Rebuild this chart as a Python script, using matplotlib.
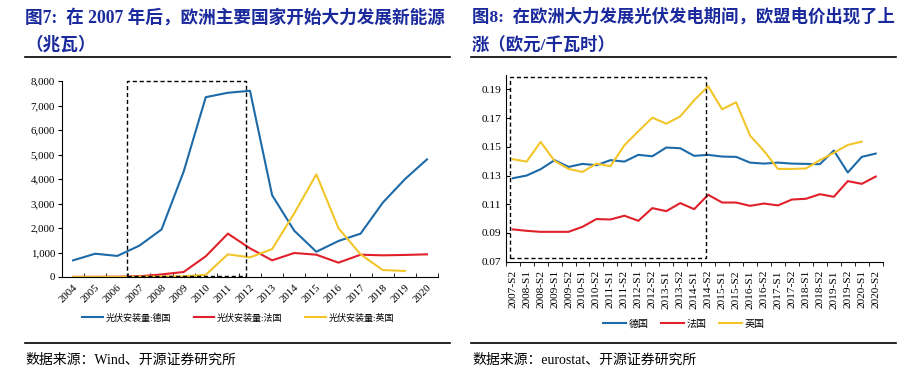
import matplotlib
matplotlib.use('Agg')
import matplotlib.pyplot as plt
from matplotlib.patches import Rectangle
from matplotlib.lines import Line2D
from matplotlib.ticker import FuncFormatter, FixedLocator

plt.rcParams['font.family'] = ['Liberation Serif', 'Noto Sans CJK SC']

# installed PV capacity (MW)
years = ['2004', '2005', '2006', '2007', '2008', '2009', '2010', '2011', '2012',
         '2013', '2014', '2015', '2016', '2017', '2018', '2019', '2020']
pv_germany = [680, 950, 860, 1280, 1940, 4300, 7340, 7520, 7600,
              3340, 1890, 1030, 1470, 1770, 3030, 3990, 4800]
pv_france = [5, 7, 11, 30, 105, 205, 845, 1770, 1170,
             680, 980, 910, 585, 910, 885, 900, 925]
pv_uk = [2, 3, 4, 10, 20, 30, 90, 925, 800,
         1140, 2600, 4190, 1990, 925, 285, 245, None]

# electricity price (EUR/kWh)
halves = ['2007-S2', '2008-S1', '2008-S2', '2009-S1', '2009-S2', '2010-S1', '2010-S2',
          '2011-S1', '2011-S2', '2012-S1', '2012-S2', '2013-S1', '2013-S2', '2014-S1',
          '2014-S2', '2015-S1', '2015-S2', '2016-S1', '2016-S2', '2017-S1', '2017-S2',
          '2018-S1', '2018-S2', '2019-S1', '2019-S2', '2020-S1', '2020-S2']
price_germany = [0.1281, 0.1300, 0.1344, 0.1407, 0.1360, 0.1381, 0.1372, 0.1407, 0.1397,
                 0.1444, 0.1434, 0.1495, 0.1490, 0.1437, 0.1444, 0.1432, 0.1430, 0.1390,
                 0.1383, 0.1390, 0.1383, 0.1381, 0.1379, 0.1474, 0.1321, 0.1430, 0.1453]
price_france = [0.0925, 0.0915, 0.0908, 0.0908, 0.0908, 0.0943, 0.0997, 0.0994, 0.1020,
                0.0985, 0.1073, 0.1052, 0.1108, 0.1066, 0.1166, 0.1112, 0.1112, 0.1089,
                0.1105, 0.1092, 0.1133, 0.1138, 0.1170, 0.1152, 0.1261, 0.1242, 0.1293]
price_uk = [0.1414, 0.1397, 0.1534, 0.1402, 0.1346, 0.1325, 0.1383, 0.1365, 0.1511,
            0.1608, 0.1703, 0.1661, 0.1712, 0.1824, 0.1921, 0.1761, 0.1810, 0.1578,
            0.1471, 0.1346, 0.1346, 0.1349, 0.1407, 0.1458, 0.1513, 0.1536, None]

blue = '#1d6aa8'
red = '#e0202a'
yellow = '#f2c62a'
navy = '#1a2a9c'
cjk = ['Liberation Serif', 'Noto Sans CJK SC']

fig = plt.figure(figsize=(9.01, 3.73), dpi=100)

# ---------- left chart ----------
ax1 = fig.add_axes([62 / 901, 1 - 277 / 373, 376 / 901, 196 / 373])
x1 = list(range(len(years)))
ax1.plot(x1, pv_germany, color=blue, lw=1.5, label='光伏安装量:德国')
ax1.plot(x1, pv_france, color=red, lw=1.5, label='光伏安装量:法国')
ax1.plot(x1, [v if v is not None else float('nan') for v in pv_uk], color=yellow, lw=1.5,
         label='光伏安装量:英国')
ax1.set_xlim(-0.5, len(years) - 0.5)
ax1.set_ylim(0, 8000)
ax1.set_yticks(range(0, 8001, 1000))
ax1.yaxis.set_major_formatter(FuncFormatter(lambda v, p: '{:,.0f}'.format(v)))
ax1.set_xticks(x1)
ax1.set_xticklabels(years, rotation=45, ha='right', rotation_mode='anchor')
ax1.xaxis.set_minor_locator(FixedLocator([i - 0.5 for i in range(len(years) + 1)]))
ax1.tick_params(axis='x', which='major', length=0, labelsize=7.8, pad=4)
ax1.tick_params(axis='x', which='minor', length=3, direction='in')
ax1.tick_params(axis='y', length=3, labelsize=7.8, pad=2)
for s in ['top', 'right']:
    ax1.spines[s].set_visible(False)
ax1.add_patch(Rectangle((2.43, 60), 7.8 - 2.43, 7960, fill=False, ec='black',
                        lw=1.0, ls=(0, (3, 2)), clip_on=False, zorder=5))
fig.legend(*ax1.get_legend_handles_labels(), loc='center', ncol=3,
           bbox_to_anchor=(238 / 901, 1 - 318 / 373), frameon=False,
           prop={'family': cjk, 'size': 6.5}, handlelength=2.3, columnspacing=2.5,
           handletextpad=0.3)

# ---------- right chart ----------
ax2 = fig.add_axes([505.7 / 901, 1 - 261.7 / 373, 377 / 901, 186.7 / 373])
x2 = list(range(len(halves)))
ax2.plot(x2, price_germany, color=blue, lw=1.5, label='德国')
ax2.plot(x2, price_france, color=red, lw=1.5, label='法国')
ax2.plot(x2, [v if v is not None else float('nan') for v in price_uk], color=yellow, lw=1.5,
         label='英国')
ax2.set_xlim(-0.5, len(halves) - 0.5)
ax2.set_ylim(0.07, 0.20)
ax2.set_yticks([0.07, 0.09, 0.11, 0.13, 0.15, 0.17, 0.19])
ax2.yaxis.set_major_formatter(FuncFormatter(lambda v, p: '{:.2f}'.format(v)))
ax2.set_xticks(x2)
ax2.set_xticklabels(halves, rotation=90)
ax2.xaxis.set_minor_locator(FixedLocator([i - 0.5 for i in range(len(halves) + 1)]))
ax2.tick_params(axis='x', which='major', length=0, labelsize=8.2, pad=6)
ax2.tick_params(axis='x', which='minor', length=3, direction='out')
ax2.tick_params(axis='y', length=3, direction='in', labelsize=8.2, pad=3)
for s in ['top', 'right']:
    ax2.spines[s].set_visible(False)
ax2.add_patch(Rectangle((-0.19, 0.0726), 13.82 + 0.19, 0.1986 - 0.0726, fill=False,
                        ec='black', lw=1.0, ls=(0, (3, 2)), clip_on=False, zorder=5))
fig.legend(*ax2.get_legend_handles_labels(), loc='center', ncol=3,
           bbox_to_anchor=(684 / 901, 1 - 324 / 373), frameon=False,
           prop={'family': cjk, 'size': 7.2}, handlelength=2.3, columnspacing=1.2,
           handletextpad=0.3)

# ---------- titles, rules, sources ----------
fig.text(25 / 901, 1 - 17 / 373, '图7:  在 2007 年后，欧洲主要国家开始大力发展新能源',
         family=cjk, fontsize=12.7, fontweight='bold', color=navy, va='center')
fig.text(25 / 901, 1 - 45 / 373, '（兆瓦）', family=cjk, fontsize=12.7,
         fontweight='bold', color=navy, va='center')
fig.text(472 / 901, 1 - 17 / 373, '图8:  在欧洲大力发展光伏发电期间，欧盟电价出现了上',
         family=cjk, fontsize=12.5, fontweight='bold', color=navy, va='center')
fig.text(472 / 901, 1 - 45 / 373, '涨（欧元/千瓦时）', family=cjk, fontsize=12.5,
         fontweight='bold', color=navy, va='center')

for y in [1 - 57 / 373, 1 - 343 / 373]:
    fig.add_artist(Line2D([25 / 901, 450 / 901], [y, y], color='black', lw=1.2,
                          transform=fig.transFigure))
    fig.add_artist(Line2D([471 / 901, 896 / 901], [y, y], color='black', lw=1.2,
                          transform=fig.transFigure))

fig.text(25 / 901, 1 - 360 / 373, '数据来源：Wind、开源证券研究所', family=cjk,
         fontsize=10, va='center')
fig.text(472 / 901, 1 - 360 / 373, '数据来源：eurostat、开源证券研究所', family=cjk,
         fontsize=10, va='center')

fig.savefig('out.png', dpi=100)
